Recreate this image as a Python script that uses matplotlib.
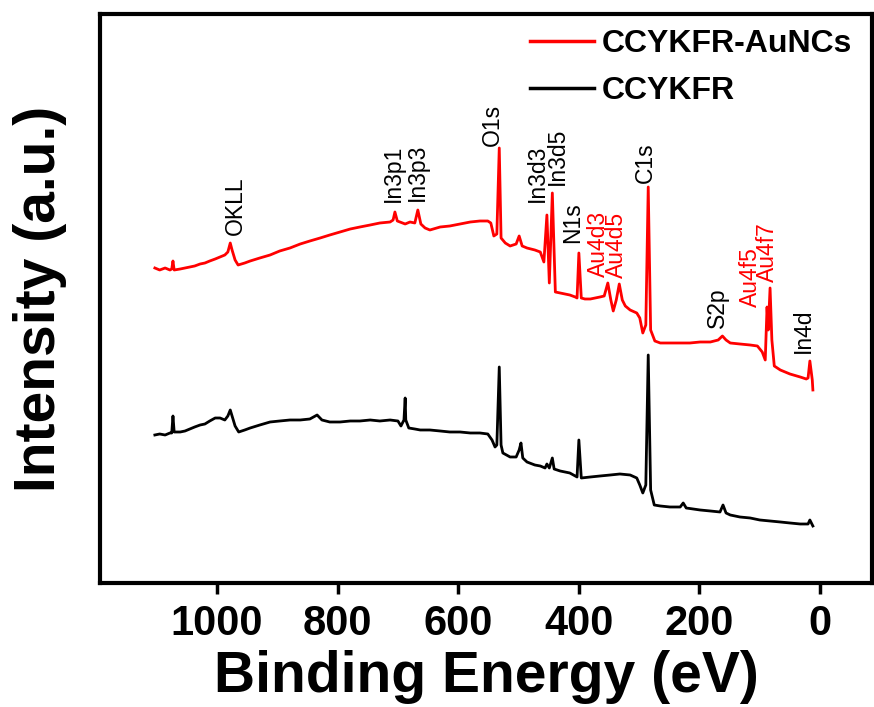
import numpy as np
import matplotlib.pyplot as plt

plt.rcParams['font.family'] = ['Liberation Sans', 'DejaVu Sans']

# CCYKFR-AuNCs survey (binding energy eV, intensity a.u.)
red_ev = [1103, 1095, 1086, 1078, 1075, 1073, 1071, 1061, 1053, 1045, 1037, 1028, 1020, 1012,
          1003, 995, 987, 982, 978, 975, 970, 965, 954, 945, 929, 912, 896, 879, 862, 846,
          829, 813, 796, 779, 763, 746, 730, 713, 708, 705, 701, 688, 680, 672, 667, 662,
          655, 647, 630, 614, 597, 580, 564, 551, 546, 541, 536, 532, 529, 522, 514, 504,
          499, 494, 486, 473, 464, 458, 453, 449, 444, 439, 431, 423, 415, 406, 403, 400,
          396, 390, 381, 373, 365, 358, 352, 347, 343, 338, 333, 328, 323, 315, 304, 299,
          294, 289, 285, 281, 274, 265, 249, 232, 216, 199, 182, 169, 162, 156, 149,
          133, 116, 104, 96, 91, 88, 86, 83, 80, 76, 66, 50, 33, 23, 20, 17, 13, 12]
red_int = [315, 313, 315, 313, 314, 322, 313, 314, 315, 316, 317, 319, 320, 322,
           324, 326, 328, 331, 340, 333, 323, 318, 320, 322, 325, 328, 332, 335, 339, 342,
           345, 348, 351, 354, 356, 358, 360, 361, 363, 371, 362, 359, 361, 360, 373, 359,
           355, 353, 356, 357, 359, 361, 362, 362, 360, 347, 349, 435, 345, 340, 337, 339,
           347, 337, 335, 333, 331, 321, 368, 300, 390, 291, 290, 289, 288, 286, 285, 330,
           285, 284, 284, 285, 286, 287, 300, 283, 272, 283, 299, 283, 277, 273, 270, 265,
           250, 258, 396, 253, 242, 240, 240, 240, 240, 241, 241, 243, 247, 243, 240,
           239, 238, 237, 231, 223, 276, 253, 295, 243, 217, 213, 209, 206, 204, 205, 222, 203, 193]

# CCYKFR survey
black_ev = [1103, 1095, 1086, 1078, 1075, 1073, 1071, 1061, 1053, 1045, 1037, 1028, 1020, 1012,
            1003, 995, 987, 982, 978, 975, 970, 964, 954, 945, 929, 912, 896, 879, 862, 846,
            834, 826, 813, 796, 779, 763, 746, 730, 713, 700, 695, 690, 688, 687, 682, 672,
            663, 647, 630, 614, 597, 580, 564, 551, 544, 539, 536, 532, 529, 526, 514, 504,
            499, 496, 493, 486, 473, 464, 456, 453, 449, 444, 441, 431, 423, 415, 406, 403,
            400, 396, 381, 365, 348, 332, 315, 304, 299, 294, 289, 285, 281, 275, 265,
            249, 232, 227, 222, 199, 182, 166, 161, 156, 149, 133, 116, 100, 83, 66, 50,
            33, 20, 17, 12]
black_int = [148, 149, 148, 150, 150, 167, 151, 151, 152, 154, 156, 158, 159, 162,
             165, 165, 163, 167, 173, 167, 157, 151, 153, 155, 158, 161, 162, 163, 163, 164,
             168, 163, 161, 161, 162, 162, 163, 162, 163, 162, 157, 163, 185, 163, 155, 154,
             153, 153, 152, 151, 151, 150, 150, 149, 143, 136, 138, 216, 138, 130, 126, 126,
             133, 140, 125, 121, 118, 117, 115, 119, 115, 125, 114, 112, 111, 110, 107, 106,
             143, 105, 106, 107, 108, 109, 108, 105, 98, 90, 98, 228, 93, 78, 77,
             76, 76, 80, 75, 73, 72, 71, 78, 70, 68, 66, 65, 63, 62, 61, 60,
             59, 59, 63, 57]

# peak labels: text, position (eV), text base (a.u.), colour
peak_names = ['OKLL', 'In3p1', 'In3p3', 'O1s', 'In3d3', 'In3d5', 'N1s', 'Au4d3', 'Au4d5',
              'C1s', 'S2p', 'Au4f5', 'Au4f7', 'In4d']
peak_ev = [970, 708, 667, 544, 469, 436, 410, 368, 337, 290, 171, 116, 88, 28]
peak_base = [348, 381, 382, 437, 381, 398, 340, 306, 305, 400, 255, 276, 301, 230]
peak_col = ['black', 'black', 'black', 'black', 'black', 'black', 'black', 'red', 'red',
            'black', 'black', 'red', 'red', 'black']

fig = plt.figure(figsize=(8.74, 7.07), dpi=100)
ax = fig.add_axes([0.1144, 0.1754, 0.8833, 0.8048])

ax.plot(red_ev, red_int, color='#ff0000', lw=2.0, label='CCYKFR-AuNCs')
ax.plot(black_ev, black_int, color='black', lw=2.0, label='CCYKFR')

for name, e, b, c in zip(peak_names, peak_ev, peak_base, peak_col):
    ax.text(e, b, name, rotation=90, ha='center', va='bottom', fontsize=16.5, color=c)

ax.set_xlim(1194, -86)
ax.set_ylim(0, 569)
ax.set_xticks([1000, 800, 600, 400, 200, 0])
ax.set_yticks([])
for s in ax.spines.values():
    s.set_linewidth(3)
ax.tick_params(axis='x', direction='out', length=8, width=2.5, pad=7,
               labelsize=30)
for t in ax.get_xticklabels():
    t.set_fontweight('bold')

ax.set_xlabel('Binding Energy (eV)', fontsize=41, fontweight='bold')
ax.set_ylabel('Intensity (a.u.)', fontsize=41, fontweight='bold')
ax.xaxis.set_label_coords(0.5, -0.118)
ax.yaxis.set_label_coords(-0.043, 0.5)

leg = ax.legend(loc='upper left', bbox_to_anchor=(0.557, 0.973), frameon=False,
                prop={'size': 23, 'weight': 'bold'}, handlelength=2.0,
                handletextpad=0.25, labelspacing=0.53, borderpad=0, borderaxespad=0)
for l in leg.get_lines():
    l.set_linewidth(2.5)

fig.savefig('out.png', dpi=100)
